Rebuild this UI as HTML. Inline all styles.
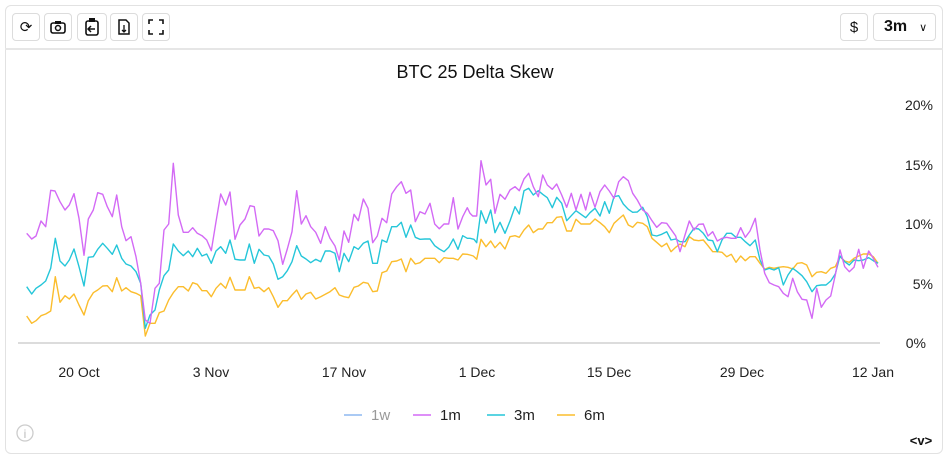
<!DOCTYPE html>
<html><head><meta charset="utf-8"><style>
body{margin:0;background:#fff;font-family:"Liberation Sans",sans-serif;}
.card{position:absolute;left:5px;top:5px;width:938px;height:449px;border:1px solid #e2e2e2;border-radius:6px;box-sizing:border-box;}
.bar{position:absolute;left:5px;top:48px;width:938px;height:2px;background:#e6e6e6;}
.btn{position:absolute;top:13px;height:28px;border:1px solid #dcdcdc;border-radius:4px;box-sizing:border-box;font-size:15px;display:flex;align-items:center;justify-content:center;color:#111;}
</style></head><body>
<div class="card"></div><div class="bar"></div>
<div class="btn" style="left:12px;width:28px">⟳</div>
<div class="btn" style="left:44px;width:28px"><svg width="16" height="14"><rect x="1" y="3" width="14" height="10" rx="2" fill="none" stroke="#111" stroke-width="1.6"/><rect x="5" y="1" width="6" height="3" fill="#111"/><circle cx="8" cy="8" r="2.5" fill="none" stroke="#111" stroke-width="1.5"/></svg></div>
<div class="btn" style="left:77px;width:30px"><svg width="14" height="18"><rect x="1" y="3" width="12" height="14" rx="2" fill="none" stroke="#111" stroke-width="1.6"/><rect x="4" y="0" width="6" height="4" fill="#111"/><path d="M10 11H4M6 8l-3 3 3 3" fill="none" stroke="#111" stroke-width="1.5"/></svg></div>
<div class="btn" style="left:110px;width:28px"><svg width="12" height="16"><path d="M1 1h7l3 3v11H1z" fill="none" stroke="#111" stroke-width="1.5"/><path d="M6 6v7M4 11l2 2 2-2" fill="none" stroke="#111" stroke-width="1.3"/></svg></div>
<div class="btn" style="left:142px;width:28px"><svg width="16" height="16"><path d="M1 5V1h4M11 1h4v4M15 11v4h-4M5 15H1v-4" fill="none" stroke="#111" stroke-width="1.6"/></svg></div>
<div class="btn" style="left:840px;width:28px">$</div>
<div class="btn" style="left:873px;width:63px;font-size:16px;font-weight:bold;justify-content:flex-start;padding-left:10px">3m<span style="font-size:11px;margin-left:12px;font-weight:normal">∨</span></div>
<svg width="950" height="460" style="position:absolute;left:0;top:0" id="s">
<text x="475" y="78" text-anchor="middle" font-size="18" fill="#111">BTC 25 Delta Skew</text>
<g font-size="14" fill="#222" text-anchor="end">
<text x="933" y="110">20%</text><text x="933" y="170">15%</text><text x="933" y="229">10%</text><text x="933" y="289">5%</text><text x="926" y="348">0%</text></g>
<line x1="18" y1="343" x2="880" y2="343" stroke="#c8c8c8" stroke-width="1.3"/>
<g font-size="14" fill="#222" text-anchor="middle">
<text x="79" y="377">20 Oct</text><text x="211" y="377">3 Nov</text><text x="344" y="377">17 Nov</text><text x="477" y="377">1 Dec</text><text x="609" y="377">15 Dec</text><text x="742" y="377">29 Dec</text><text x="873" y="377">12 Jan</text></g>
<g font-size="15">
<line x1="344" y1="415" x2="362" y2="415" stroke="#8eb8f0" stroke-width="1.5"/><text x="371" y="420" fill="#999">1w</text>
<line x1="413" y1="415" x2="431" y2="415" stroke="#d36af5" stroke-width="1.5"/><text x="440" y="420" fill="#222">1m</text>
<line x1="487" y1="415" x2="505" y2="415" stroke="#25c6d9" stroke-width="1.5"/><text x="514" y="420" fill="#222">3m</text>
<line x1="557" y1="415" x2="575" y2="415" stroke="#fbbd2d" stroke-width="1.5"/><text x="584" y="420" fill="#222">6m</text></g>
<circle cx="25" cy="433" r="8" fill="none" stroke="#ccc" stroke-width="1.3"/><text x="25" y="438" font-size="12" fill="#bbb" text-anchor="middle">i</text>
<text x="921" y="445" font-size="13" font-weight="bold" text-anchor="middle" fill="#111">&lt;v&gt;</text>
</svg>
<script>
var P2={
m:[80,250,95,267,108,258,123,213,137,230,152,121,165,123,180,155,195,180,208,165,222,131,237,205,252,316,265,207,280,180,293,128,308,133,322,170,337,200,350,135,365,230,378,272,393,260,408,320,422,400,436,510,450,520,465,415,478,400,492,240,506,222,520,40,535,195,550,247,565,247,578,233,592,250,606,257,620,270,634,302,648,215,662,132,677,165,690,126,705,268,720,225,735,207,750,167,763,170,777,258,792,237,806,237,820,242,834,272,848,343,862,297,876,245,890,122,904,222,918,197,932,230,947,247,962,280,976,230,990,265,1005,288,1018,330,1032,243,1046,277,1062,193,1075,212,1090,147,1104,175,1118,278,1132,258,1146,205,1160,218,1175,132,1190,110,1204,95,1218,130,1232,120,1246,215,1260,185,1275,192,1290,160,1304,222,1318,236,1332,222,1346,222,1360,143,1374,237,1388,200,1402,173],
c:[80,410,95,432,108,415,123,405,137,393,152,355,166,265,180,333,195,348,208,330,222,297,237,350,252,408,265,322,280,320,293,298,308,280,322,295,337,313,350,285,365,325,378,342,393,348,408,365,422,400,436,535,450,495,465,480,478,420,492,377,506,360,520,282,535,303,550,317,565,303,578,320,592,295,606,318,620,312,634,340,648,303,662,290,677,310,690,270,705,328,720,330,735,330,748,282,763,340,777,298,792,315,806,318,820,342,834,388,848,380,862,362,876,335,890,287,904,318,918,327,932,338,947,328,962,335,976,303,990,303,1005,310,1018,365,1032,310,1046,335,1062,290,1075,298,1090,280,1104,273,1118,340,1132,340,1146,270,1160,277,1175,230,1190,230,1204,217,1218,262,1232,225,1246,262,1260,268,1275,267,1290,267,1304,287,1318,297,1332,305,1346,292,1360,267,1374,298,1388,257,1402,265],
o:[80,498,95,520,108,512,123,497,137,492,152,483,166,380,180,457,195,437,208,447,222,432,237,465,252,495,265,452,280,428,293,420,308,408,322,407,337,425,350,383,365,423,378,413,393,425,408,430,422,437,436,558,450,520,465,520,478,488,492,483,506,450,520,428,535,410,550,410,565,423,578,398,592,403,606,422,620,422,634,440,648,415,662,400,677,415,690,382,705,420,720,420,735,420,748,380,763,415,777,412,792,425,806,413,820,440,834,472,848,452,862,452,876,435,890,420,904,448,918,432,932,427,947,447,962,440,976,433,990,425,1005,413,1018,435,1032,440,1046,443,1062,412,1075,408,1090,397,1104,400,1118,425,1132,423,1146,368,1160,363,1175,335,1190,333,1204,327,1218,365,1232,325,1246,342,1260,338,1275,325,1290,325,1304,325,1318,338,1332,323,1346,325,1360,325,1374,330,1388,312,1402,313]};
var P3={
m:[0,190,8,198,20,198,33,32,48,105,62,88,75,190,90,133,105,148,120,120,135,110,148,122,162,87,176,70,190,110,205,140,218,75,232,105,247,118,260,102,275,135,290,172,304,130,318,180,333,133,347,180,360,127,375,172,390,125,404,105,418,123,432,145,446,95,460,80,475,92,488,130,502,150,518,180,532,190,546,212,560,232,575,218,590,220,603,238,617,258,630,305,645,255,658,213,672,240,686,223,700,222,714,258,728,245,742,273,756,265,770,262,784,265,798,265,812,233,826,262,840,243,856,205,870,300,884,370,898,398,912,405,926,410,940,430,954,440,968,385,982,425,996,448,1010,450,1026,505,1040,415,1054,472,1068,450,1082,438,1096,375,1110,300,1124,350,1138,365,1152,352,1166,298,1180,355,1196,303,1210,325,1224,352],
c:[0,265,12,268,20,278,33,182,48,220,62,180,75,248,90,217,105,250,120,213,135,170,148,192,162,122,176,115,190,135,205,122,218,133,232,143,247,173,260,142,275,160,290,212,304,197,318,182,333,193,347,203,360,188,375,175,390,198,404,155,418,190,432,140,446,137,460,162,475,178,488,187,502,186,518,172,532,200,546,255,560,258,575,253,590,245,603,270,617,267,630,275,645,275,658,255,672,235,686,237,700,250,714,270,728,272,742,305,756,270,770,250,784,250,798,262,812,262,826,275,840,287,856,270,870,330,884,360,898,355,912,360,926,353,940,405,954,375,968,355,982,365,996,377,1010,395,1026,425,1040,407,1054,405,1068,405,1082,393,1096,372,1110,318,1124,335,1138,345,1152,330,1166,332,1180,330,1196,323,1210,332,1224,340],
o:[0,315,10,318,20,328,33,268,48,290,62,273,75,293,90,277,105,297,120,260,135,257,148,262,162,240,176,225,190,248,205,237,218,237,232,218,247,218,260,202,275,200,290,243,304,243,318,208,333,222,347,222,360,222,375,207,390,218,404,230,418,248,432,220,446,207,460,195,475,225,488,232,502,217,518,220,532,230,546,265,560,277,575,290,590,280,603,305,617,292,630,282,645,290,658,260,672,270,686,272,700,270,714,287,728,305,742,305,756,307,770,320,784,313,798,337,812,318,826,332,840,320,856,320,870,340,884,358,898,352,912,355,926,352,940,350,954,352,968,357,982,340,996,338,1010,345,1026,380,1040,367,1054,365,1068,370,1082,355,1096,350,1110,320,1124,333,1138,337,1152,325,1166,318,1180,312,1196,312,1210,320,1224,340]};
var col={o:"#fbbd2d",c:"#25c6d9",m:"#d36af5"};
var s=document.getElementById('s');
["o","c","m"].forEach(function(k){
 var pts=[],a=P2[k],b=P3[k],i;
 for(i=0;i<a.length;i+=2)pts.push((a[i]/3).toFixed(1)+","+(150+a[i+1]/3).toFixed(1));
 for(i=0;i<b.length;i+=2)pts.push((470+b[i]/3).toFixed(1)+","+(150+b[i+1]/3).toFixed(1));
 var p=document.createElementNS("http://www.w3.org/2000/svg","polyline");
 p.setAttribute("points",pts.join(" "));p.setAttribute("fill","none");
 p.setAttribute("stroke",col[k]);p.setAttribute("stroke-width","1.4");p.setAttribute("stroke-linejoin","round");
 s.appendChild(p);
});
</script>
</body></html>
